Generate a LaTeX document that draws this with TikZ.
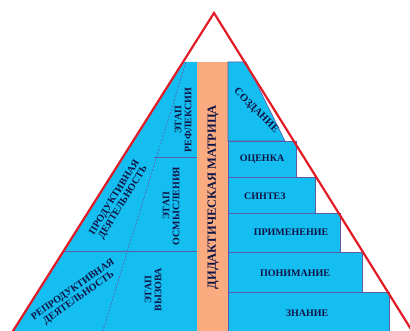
\documentclass[tikz,border=0pt]{standalone}
\usepackage{fontspec}
\setmainfont{Liberation Serif}
\usetikzlibrary{positioning}
\definecolor{pyrblue}{RGB}{20,190,240}
\definecolor{pyrorange}{RGB}{250,172,128}
\definecolor{pyrline}{RGB}{95,90,170}
\definecolor{pyrtext}{RGB}{15,20,70}
\definecolor{pyrred}{RGB}{226,28,38}
\tikzset{
x=1pt, y=-1pt, % one unit is one pixel of the picture, y runs downwards
block/.style={fill=pyrblue, draw=pyrline, line width=0.6pt}, % the blue parts
matrixbar/.style={fill=pyrorange}, % the orange column
divider/.style={draw=pyrline, line width=0.6pt}, % thin lines inside the left part
stagetext/.style={font=\bfseries\fontsize{10}{10}\selectfont, text=pyrtext, align=center, inner sep=0pt}, % all small texts
}

\begin{document}
\begin{tikzpicture}
\useasboundingbox (0,0) rectangle (410,331);
\clip (0,0) rectangle (410,331);
% corners of the pyramid
\coordinate (apex) at (214,13);
\coordinate (baseL) at (7.3,340);
\coordinate (baseR) at (417.7,340);
% left part
\fill[pyrblue] (183,62) -- (197,62) -- (197,340) -- (7.3,340) -- cycle;
\draw[divider] (63.6,251) -- (197,251);
\draw[divider] (154,157) -- (197,157);
\draw[divider, dashed, dash pattern=on 2pt off 1.5pt] (186,62) -- (100,340);
% the matrix column
\fill[matrixbar] (197,62) rectangle (228,340);
% levels on the right
\draw[block] (228,62) -- (246,62) -- (285,141) -- (228,141) -- cycle;
\draw[block] (228,141) rectangle (296,177);
\draw[block] (228,177) rectangle (315,213);
\draw[block] (228,213) rectangle (340,252);
\draw[block] (228,252) rectangle (362,292);
\draw[block] (228,292) rectangle (389,340);
% the pyramid outline
\draw[pyrred, line width=2.2pt, line join=miter] (baseL) -- (apex) -- (baseR);
% texts
\node[stagetext, font=\bfseries\fontsize{12.5}{12.5}\selectfont, rotate=90] (matrix) at (213,197) {ДИДАКТИЧЕСКАЯ МАТРИЦА};
\node[stagetext, font=\bfseries\fontsize{10.5}{10.5}\selectfont, rotate=-45] (create) at (256,111) {СОЗДАНИЕ};
\node[stagetext] (eval) at (262,159) {ОЦЕНКА};
\node[stagetext] (synth) at (265,196) {СИНТЕЗ};
\node[stagetext] (apply) at (291,232) {ПРИМЕНЕНИЕ};
\node[stagetext] (underst) at (295,273) {ПОНИМАНИЕ};
\node[stagetext] (know) at (307,313) {ЗНАНИЕ};
\node[stagetext, rotate=90] (reflect) at (183,120) {ЭТАП\\РЕФЛЕКСИИ};
\node[stagetext, rotate=90] (compr) at (171,206) {ЭТАП\\ОСМЫСЛЕНИЯ};
\node[stagetext, rotate=90] (call) at (153,290) {ЭТАП\\ВЫЗОВА};
\node[stagetext, rotate=58] (product) at (119,200) {ПРОДУКТИВНАЯ\\ДЕЯТЕЛЬНОСТЬ};
\node[stagetext, rotate=35] (reprod) at (76,294) {РЕПРОДУКТИВНАЯ\\ДЕЯТЕЛЬНОСТЬ};
\end{tikzpicture}
\end{document}
